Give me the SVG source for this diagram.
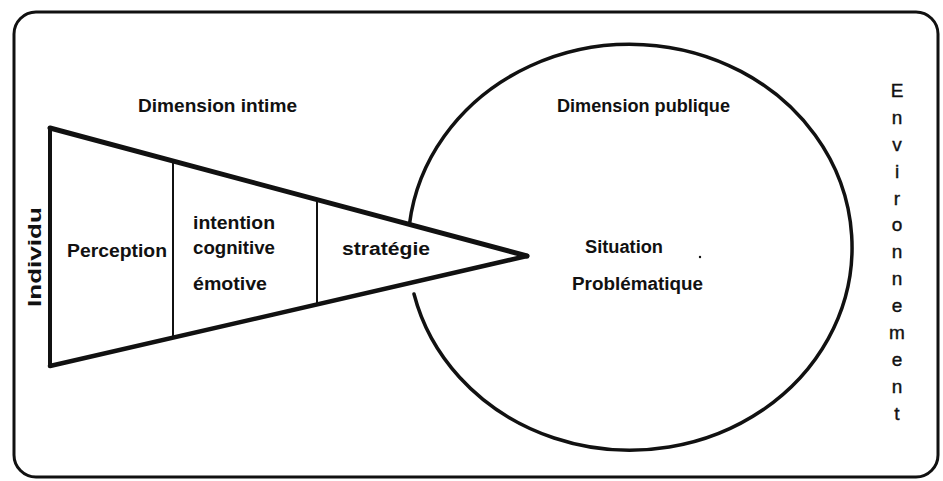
<svg xmlns="http://www.w3.org/2000/svg" width="943" height="481" viewBox="0 0 943 481">
  <style>
    .lbl { font-family: "Liberation Sans", Arial, sans-serif; font-size: 18px; font-weight: bold; fill: #111; }
    .env { font-family: "Liberation Sans", Arial, sans-serif; font-size: 19px; fill: #111; stroke: #111; stroke-width: 0.4; text-anchor: middle; }
    .line { fill: none; stroke: #111; stroke-linecap: round; stroke-linejoin: round; }
  </style>
  <rect width="943" height="481" fill="#fff"/>

  <!-- outer frame: the environment -->
  <g id="frame">
    <rect x="14" y="12" width="924" height="465" rx="22" ry="22" class="line" stroke-width="3"/>
  </g>

  <!-- public dimension: open ellipse -->
  <g id="public">
    <path class="line" stroke-width="3.5" d="M 409.5 224 A 222 203 0 1 1 414 294"/>
    <text class="lbl" x="557" y="112" textLength="173" lengthAdjust="spacingAndGlyphs">Dimension publique</text>
    <text class="lbl" x="585" y="253" textLength="78" lengthAdjust="spacingAndGlyphs">Situation</text>
    <circle cx="700" cy="257" r="1.2" fill="#111"/>
    <text class="lbl" x="572" y="290" textLength="131" lengthAdjust="spacingAndGlyphs">Problématique</text>
  </g>

  <!-- intimate dimension: the funnel -->
  <g id="intime">
    <path class="line" stroke-width="5" d="M 50 128 L 527 256"/>
    <path class="line" stroke-width="4.5" d="M 50 366 L 527 256"/>
    <path class="line" stroke-width="4" d="M 50 128 L 50 366"/>
    <text class="lbl" x="138" y="112" textLength="159" lengthAdjust="spacingAndGlyphs">Dimension intime</text>
  </g>

  <g id="perception">
    <line class="line" stroke-width="2" x1="173" y1="161" x2="173" y2="337"/>
    <text class="lbl" x="67" y="257" textLength="100" lengthAdjust="spacingAndGlyphs">Perception</text>
  </g>

  <g id="intention">
    <line class="line" stroke-width="2" x1="317" y1="200" x2="317" y2="304"/>
    <text class="lbl" x="193" y="229" textLength="82" lengthAdjust="spacingAndGlyphs">intention</text>
    <text class="lbl" x="193" y="254" textLength="82" lengthAdjust="spacingAndGlyphs">cognitive</text>
    <text class="lbl" x="193" y="290" textLength="74" lengthAdjust="spacingAndGlyphs">émotive</text>
  </g>

  <g id="strategie">
    <text class="lbl" x="342" y="255" textLength="88" lengthAdjust="spacingAndGlyphs">stratégie</text>
  </g>

  <g id="individu">
    <text class="lbl" font-size="21" text-anchor="middle" transform="translate(41 257) rotate(-90)" textLength="100" lengthAdjust="spacingAndGlyphs">Individu</text>
  </g>

  <g id="environnement">
    <text class="env" x="897" y="97">E</text>
    <text class="env" x="897" y="124">n</text>
    <text class="env" x="897" y="151">v</text>
    <text class="env" x="897" y="178">i</text>
    <text class="env" x="897" y="205">r</text>
    <text class="env" x="897" y="231">o</text>
    <text class="env" x="897" y="258">n</text>
    <text class="env" x="897" y="285">n</text>
    <text class="env" x="897" y="312">e</text>
    <text class="env" x="897" y="339">m</text>
    <text class="env" x="897" y="366">e</text>
    <text class="env" x="897" y="393">n</text>
    <text class="env" x="897" y="420">t</text>
  </g>
</svg>
